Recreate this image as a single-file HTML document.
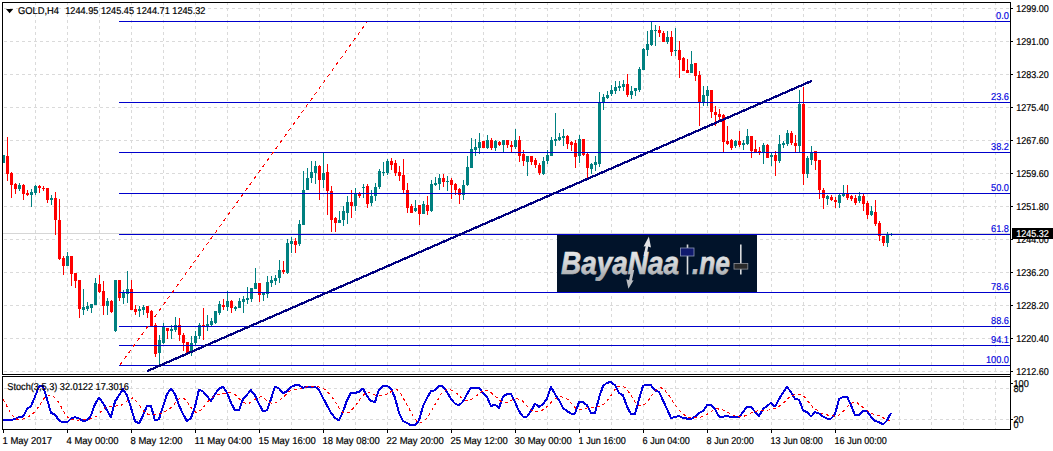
<!DOCTYPE html>
<html><head><meta charset="utf-8"><title>GOLD,H4</title>
<style>
html,body{margin:0;padding:0;background:#fff;overflow:hidden}
svg{display:block}
text{font-family:"Liberation Sans",sans-serif;font-size:10px;fill:#000;stroke:#000;stroke-width:0.2px;text-rendering:geometricPrecision}
.g{stroke:#dadada;stroke-width:1;stroke-dasharray:3 3;fill:none}
.f{stroke:#0000cc;stroke-width:1;fill:none}
.fl{fill:#0000e0;stroke:#0000e0;stroke-width:0.15px;text-anchor:end}
.r{fill:#ff0000}.t{fill:#008080}
</style></head><body>
<svg width="1053" height="451" viewBox="0 0 1053 451">
<rect width="1053" height="451" fill="#fff"/>
<g shape-rendering="crispEdges">
<line class="g" x1="35.5" y1="2" x2="35.5" y2="374"/><line class="g" x1="35.5" y1="380" x2="35.5" y2="429"/><line class="g" x1="67.5" y1="2" x2="67.5" y2="374"/><line class="g" x1="67.5" y1="380" x2="67.5" y2="429"/><line class="g" x1="99.5" y1="2" x2="99.5" y2="374"/><line class="g" x1="99.5" y1="380" x2="99.5" y2="429"/><line class="g" x1="131.5" y1="2" x2="131.5" y2="374"/><line class="g" x1="131.5" y1="380" x2="131.5" y2="429"/><line class="g" x1="163.5" y1="2" x2="163.5" y2="374"/><line class="g" x1="163.5" y1="380" x2="163.5" y2="429"/><line class="g" x1="195.5" y1="2" x2="195.5" y2="374"/><line class="g" x1="195.5" y1="380" x2="195.5" y2="429"/><line class="g" x1="227.5" y1="2" x2="227.5" y2="374"/><line class="g" x1="227.5" y1="380" x2="227.5" y2="429"/><line class="g" x1="259.5" y1="2" x2="259.5" y2="374"/><line class="g" x1="259.5" y1="380" x2="259.5" y2="429"/><line class="g" x1="291.5" y1="2" x2="291.5" y2="374"/><line class="g" x1="291.5" y1="380" x2="291.5" y2="429"/><line class="g" x1="323.5" y1="2" x2="323.5" y2="374"/><line class="g" x1="323.5" y1="380" x2="323.5" y2="429"/><line class="g" x1="355.5" y1="2" x2="355.5" y2="374"/><line class="g" x1="355.5" y1="380" x2="355.5" y2="429"/><line class="g" x1="387.5" y1="2" x2="387.5" y2="374"/><line class="g" x1="387.5" y1="380" x2="387.5" y2="429"/><line class="g" x1="419.5" y1="2" x2="419.5" y2="374"/><line class="g" x1="419.5" y1="380" x2="419.5" y2="429"/><line class="g" x1="451.5" y1="2" x2="451.5" y2="374"/><line class="g" x1="451.5" y1="380" x2="451.5" y2="429"/><line class="g" x1="483.5" y1="2" x2="483.5" y2="374"/><line class="g" x1="483.5" y1="380" x2="483.5" y2="429"/><line class="g" x1="515.5" y1="2" x2="515.5" y2="374"/><line class="g" x1="515.5" y1="380" x2="515.5" y2="429"/><line class="g" x1="547.5" y1="2" x2="547.5" y2="374"/><line class="g" x1="547.5" y1="380" x2="547.5" y2="429"/><line class="g" x1="579.5" y1="2" x2="579.5" y2="374"/><line class="g" x1="579.5" y1="380" x2="579.5" y2="429"/><line class="g" x1="611.5" y1="2" x2="611.5" y2="374"/><line class="g" x1="611.5" y1="380" x2="611.5" y2="429"/><line class="g" x1="643.5" y1="2" x2="643.5" y2="374"/><line class="g" x1="643.5" y1="380" x2="643.5" y2="429"/><line class="g" x1="675.5" y1="2" x2="675.5" y2="374"/><line class="g" x1="675.5" y1="380" x2="675.5" y2="429"/><line class="g" x1="707.5" y1="2" x2="707.5" y2="374"/><line class="g" x1="707.5" y1="380" x2="707.5" y2="429"/><line class="g" x1="739.5" y1="2" x2="739.5" y2="374"/><line class="g" x1="739.5" y1="380" x2="739.5" y2="429"/><line class="g" x1="771.5" y1="2" x2="771.5" y2="374"/><line class="g" x1="771.5" y1="380" x2="771.5" y2="429"/><line class="g" x1="803.5" y1="2" x2="803.5" y2="374"/><line class="g" x1="803.5" y1="380" x2="803.5" y2="429"/><line class="g" x1="835.5" y1="2" x2="835.5" y2="374"/><line class="g" x1="835.5" y1="380" x2="835.5" y2="429"/><line class="g" x1="867.5" y1="2" x2="867.5" y2="374"/><line class="g" x1="867.5" y1="380" x2="867.5" y2="429"/><line class="g" x1="899.5" y1="2" x2="899.5" y2="374"/><line class="g" x1="899.5" y1="380" x2="899.5" y2="429"/><line class="g" x1="931.5" y1="2" x2="931.5" y2="374"/><line class="g" x1="931.5" y1="380" x2="931.5" y2="429"/><line class="g" x1="963.5" y1="2" x2="963.5" y2="374"/><line class="g" x1="963.5" y1="380" x2="963.5" y2="429"/><line class="g" x1="995.5" y1="2" x2="995.5" y2="374"/><line class="g" x1="995.5" y1="380" x2="995.5" y2="429"/>
<line class="g" x1="4" y1="8.5" x2="1010" y2="8.5"/><line class="g" x1="4" y1="41.5" x2="1010" y2="41.5"/><line class="g" x1="4" y1="74.5" x2="1010" y2="74.5"/><line class="g" x1="4" y1="107.5" x2="1010" y2="107.5"/><line class="g" x1="4" y1="140.5" x2="1010" y2="140.5"/><line class="g" x1="4" y1="173.5" x2="1010" y2="173.5"/><line class="g" x1="4" y1="206.5" x2="1010" y2="206.5"/><line class="g" x1="4" y1="239.5" x2="1010" y2="239.5"/><line class="g" x1="4" y1="272.5" x2="1010" y2="272.5"/><line class="g" x1="4" y1="305.5" x2="1010" y2="305.5"/><line class="g" x1="4" y1="338.5" x2="1010" y2="338.5"/><line class="g" x1="4" y1="371.5" x2="1010" y2="371.5"/><line class="g" x1="4" y1="388.5" x2="1010" y2="388.5"/><line class="g" x1="4" y1="419.5" x2="1010" y2="419.5"/>
<rect x="3" y="233" width="1007" height="1" fill="#d6d6d6"/>
<rect class="t" x="3" y="155" width="1" height="8"/><rect class="t" x="2" y="155" width="3" height="8"/>
<rect class="r" x="7" y="137" width="1" height="44"/><rect class="r" x="6" y="156" width="3" height="18"/>
<rect class="r" x="11" y="172" width="1" height="26"/><rect class="r" x="10" y="173" width="3" height="12"/>
<rect class="r" x="15" y="183" width="1" height="11"/><rect class="r" x="14" y="184" width="3" height="5"/>
<rect class="t" x="19" y="183" width="1" height="8"/><rect class="t" x="18" y="185" width="3" height="4"/>
<rect class="r" x="23" y="184" width="1" height="16"/><rect class="r" x="22" y="185" width="3" height="9"/>
<rect class="r" x="27" y="190" width="1" height="6"/><rect class="r" x="26" y="193" width="3" height="2"/>
<rect class="t" x="31" y="189" width="1" height="18"/><rect class="t" x="30" y="192" width="3" height="3"/>
<rect class="t" x="35" y="185" width="1" height="10"/><rect class="t" x="34" y="186" width="3" height="7"/>
<rect class="r" x="39" y="185" width="1" height="8"/><rect class="r" x="38" y="186" width="3" height="2"/>
<rect class="r" x="43" y="186" width="1" height="5"/><rect class="r" x="42" y="188" width="3" height="1"/>
<rect class="r" x="47" y="188" width="1" height="15"/><rect class="r" x="46" y="188" width="3" height="12"/>
<rect class="t" x="51" y="195" width="1" height="10"/><rect class="t" x="50" y="198" width="3" height="2"/>
<rect class="r" x="55" y="192" width="1" height="43"/><rect class="r" x="54" y="198" width="3" height="22"/>
<rect class="r" x="59" y="199" width="1" height="61"/><rect class="r" x="58" y="220" width="3" height="39"/>
<rect class="r" x="63" y="256" width="1" height="19"/><rect class="r" x="62" y="258" width="3" height="8"/>
<rect class="t" x="67" y="252" width="1" height="14"/><rect class="t" x="66" y="256" width="3" height="10"/>
<rect class="r" x="71" y="256" width="1" height="30"/><rect class="r" x="70" y="256" width="3" height="18"/>
<rect class="r" x="75" y="273" width="1" height="15"/><rect class="r" x="74" y="273" width="3" height="8"/>
<rect class="r" x="79" y="280" width="1" height="38"/><rect class="r" x="78" y="280" width="3" height="29"/>
<rect class="t" x="83" y="289" width="1" height="26"/><rect class="t" x="82" y="307" width="3" height="3"/>
<rect class="t" x="87" y="302" width="1" height="9"/><rect class="t" x="86" y="306" width="3" height="3"/>
<rect class="t" x="91" y="304" width="1" height="9"/><rect class="t" x="90" y="304" width="3" height="4"/>
<rect class="t" x="95" y="278" width="1" height="27"/><rect class="t" x="94" y="283" width="3" height="22"/>
<rect class="r" x="99" y="275" width="1" height="18"/><rect class="r" x="98" y="284" width="3" height="8"/>
<rect class="r" x="103" y="281" width="1" height="34"/><rect class="r" x="102" y="291" width="3" height="15"/>
<rect class="t" x="107" y="298" width="1" height="17"/><rect class="t" x="106" y="301" width="3" height="5"/>
<rect class="r" x="111" y="300" width="1" height="13"/><rect class="r" x="110" y="301" width="3" height="11"/>
<rect class="t" x="115" y="280" width="1" height="52"/><rect class="t" x="114" y="280" width="3" height="51"/>
<rect class="r" x="119" y="280" width="1" height="21"/><rect class="r" x="118" y="280" width="3" height="18"/>
<rect class="t" x="123" y="290" width="1" height="14"/><rect class="t" x="122" y="292" width="3" height="6"/>
<rect class="t" x="127" y="271" width="1" height="32"/><rect class="t" x="126" y="289" width="3" height="5"/>
<rect class="r" x="131" y="280" width="1" height="30"/><rect class="r" x="130" y="289" width="3" height="21"/>
<rect class="r" x="135" y="305" width="1" height="10"/><rect class="r" x="134" y="309" width="3" height="3"/>
<rect class="t" x="139" y="306" width="1" height="11"/><rect class="t" x="138" y="309" width="3" height="2"/>
<rect class="t" x="143" y="305" width="1" height="10"/><rect class="t" x="142" y="307" width="3" height="3"/>
<rect class="r" x="147" y="306" width="1" height="12"/><rect class="r" x="146" y="306" width="3" height="7"/>
<rect class="r" x="151" y="310" width="1" height="16"/><rect class="r" x="150" y="311" width="3" height="15"/>
<rect class="r" x="155" y="323" width="1" height="34"/><rect class="r" x="154" y="325" width="3" height="29"/>
<rect class="t" x="159" y="335" width="1" height="30"/><rect class="t" x="158" y="340" width="3" height="13"/>
<rect class="t" x="163" y="323" width="1" height="21"/><rect class="t" x="162" y="326" width="3" height="17"/>
<rect class="r" x="167" y="328" width="1" height="11"/><rect class="r" x="166" y="328" width="3" height="3"/>
<rect class="t" x="171" y="325" width="1" height="14"/><rect class="t" x="170" y="329" width="3" height="2"/>
<rect class="t" x="175" y="317" width="1" height="15"/><rect class="t" x="174" y="325" width="3" height="5"/>
<rect class="r" x="179" y="318" width="1" height="23"/><rect class="r" x="178" y="325" width="3" height="10"/>
<rect class="r" x="183" y="333" width="1" height="18"/><rect class="r" x="182" y="335" width="3" height="8"/>
<rect class="r" x="187" y="342" width="1" height="11"/><rect class="r" x="186" y="342" width="3" height="11"/>
<rect class="t" x="191" y="336" width="1" height="20"/><rect class="t" x="190" y="343" width="3" height="8"/>
<rect class="t" x="195" y="331" width="1" height="14"/><rect class="t" x="194" y="336" width="3" height="7"/>
<rect class="t" x="199" y="323" width="1" height="16"/><rect class="t" x="198" y="325" width="3" height="11"/>
<rect class="r" x="203" y="308" width="1" height="32"/><rect class="r" x="202" y="325" width="3" height="1"/>
<rect class="t" x="207" y="315" width="1" height="16"/><rect class="t" x="206" y="324" width="3" height="2"/>
<rect class="t" x="211" y="318" width="1" height="8"/><rect class="t" x="210" y="321" width="3" height="4"/>
<rect class="t" x="215" y="311" width="1" height="13"/><rect class="t" x="214" y="311" width="3" height="12"/>
<rect class="t" x="219" y="301" width="1" height="14"/><rect class="t" x="218" y="304" width="3" height="9"/>
<rect class="r" x="223" y="299" width="1" height="11"/><rect class="r" x="222" y="305" width="3" height="2"/>
<rect class="t" x="227" y="291" width="1" height="20"/><rect class="t" x="226" y="301" width="3" height="6"/>
<rect class="r" x="231" y="300" width="1" height="13"/><rect class="r" x="230" y="301" width="3" height="7"/>
<rect class="t" x="235" y="306" width="1" height="5"/><rect class="t" x="234" y="307" width="3" height="2"/>
<rect class="t" x="239" y="298" width="1" height="10"/><rect class="t" x="238" y="301" width="3" height="7"/>
<rect class="t" x="243" y="296" width="1" height="17"/><rect class="t" x="242" y="299" width="3" height="3"/>
<rect class="t" x="247" y="287" width="1" height="17"/><rect class="t" x="246" y="298" width="3" height="2"/>
<rect class="t" x="251" y="288" width="1" height="14"/><rect class="t" x="250" y="288" width="3" height="11"/>
<rect class="t" x="255" y="268" width="1" height="21"/><rect class="t" x="254" y="283" width="3" height="6"/>
<rect class="r" x="259" y="283" width="1" height="19"/><rect class="r" x="258" y="283" width="3" height="12"/>
<rect class="t" x="263" y="292" width="1" height="9"/><rect class="t" x="262" y="293" width="3" height="2"/>
<rect class="t" x="267" y="276" width="1" height="22"/><rect class="t" x="266" y="282" width="3" height="12"/>
<rect class="t" x="271" y="276" width="1" height="11"/><rect class="t" x="270" y="280" width="3" height="3"/>
<rect class="t" x="275" y="275" width="1" height="10"/><rect class="t" x="274" y="278" width="3" height="3"/>
<rect class="t" x="279" y="260" width="1" height="23"/><rect class="t" x="278" y="270" width="3" height="8"/>
<rect class="r" x="283" y="261" width="1" height="13"/><rect class="r" x="282" y="270" width="3" height="2"/>
<rect class="t" x="287" y="239" width="1" height="35"/><rect class="t" x="286" y="243" width="3" height="30"/>
<rect class="t" x="291" y="237" width="1" height="16"/><rect class="t" x="290" y="241" width="3" height="3"/>
<rect class="r" x="295" y="238" width="1" height="15"/><rect class="r" x="294" y="241" width="3" height="4"/>
<rect class="t" x="299" y="220" width="1" height="26"/><rect class="t" x="298" y="224" width="3" height="20"/>
<rect class="t" x="303" y="171" width="1" height="54"/><rect class="t" x="302" y="190" width="3" height="35"/>
<rect class="t" x="307" y="168" width="1" height="22"/><rect class="t" x="306" y="178" width="3" height="12"/>
<rect class="t" x="311" y="161" width="1" height="22"/><rect class="t" x="310" y="172" width="3" height="6"/>
<rect class="t" x="315" y="161" width="1" height="23"/><rect class="t" x="314" y="166" width="3" height="7"/>
<rect class="r" x="319" y="165" width="1" height="35"/><rect class="r" x="318" y="166" width="3" height="14"/>
<rect class="t" x="323" y="153" width="1" height="35"/><rect class="t" x="322" y="173" width="3" height="7"/>
<rect class="r" x="327" y="164" width="1" height="51"/><rect class="r" x="326" y="172" width="3" height="19"/>
<rect class="r" x="331" y="186" width="1" height="46"/><rect class="r" x="330" y="191" width="3" height="29"/>
<rect class="r" x="335" y="217" width="1" height="15"/><rect class="r" x="334" y="218" width="3" height="5"/>
<rect class="t" x="339" y="211" width="1" height="12"/><rect class="t" x="338" y="220" width="3" height="3"/>
<rect class="t" x="343" y="206" width="1" height="20"/><rect class="t" x="342" y="211" width="3" height="9"/>
<rect class="t" x="347" y="196" width="1" height="28"/><rect class="t" x="346" y="202" width="3" height="11"/>
<rect class="r" x="351" y="190" width="1" height="28"/><rect class="r" x="350" y="202" width="3" height="4"/>
<rect class="t" x="355" y="188" width="1" height="23"/><rect class="t" x="354" y="194" width="3" height="12"/>
<rect class="r" x="359" y="192" width="1" height="6"/><rect class="r" x="358" y="194" width="3" height="2"/>
<rect class="t" x="363" y="184" width="1" height="14"/><rect class="t" x="362" y="187" width="3" height="1"/>
<rect class="r" x="367" y="184" width="1" height="24"/><rect class="r" x="366" y="186" width="3" height="18"/>
<rect class="t" x="371" y="190" width="1" height="16"/><rect class="t" x="370" y="196" width="3" height="7"/>
<rect class="t" x="375" y="183" width="1" height="18"/><rect class="t" x="374" y="187" width="3" height="9"/>
<rect class="t" x="379" y="169" width="1" height="20"/><rect class="t" x="378" y="171" width="3" height="16"/>
<rect class="t" x="383" y="162" width="1" height="14"/><rect class="t" x="382" y="172" width="3" height="1"/>
<rect class="t" x="387" y="159" width="1" height="16"/><rect class="t" x="386" y="161" width="3" height="12"/>
<rect class="r" x="391" y="158" width="1" height="12"/><rect class="r" x="390" y="161" width="3" height="4"/>
<rect class="r" x="395" y="160" width="1" height="16"/><rect class="r" x="394" y="163" width="3" height="10"/>
<rect class="r" x="399" y="166" width="1" height="15"/><rect class="r" x="398" y="172" width="3" height="4"/>
<rect class="r" x="403" y="159" width="1" height="34"/><rect class="r" x="402" y="175" width="3" height="15"/>
<rect class="r" x="407" y="183" width="1" height="30"/><rect class="r" x="406" y="190" width="3" height="18"/>
<rect class="r" x="411" y="204" width="1" height="9"/><rect class="r" x="410" y="206" width="3" height="7"/>
<rect class="t" x="415" y="200" width="1" height="12"/><rect class="t" x="414" y="208" width="3" height="3"/>
<rect class="r" x="419" y="205" width="1" height="20"/><rect class="r" x="418" y="205" width="3" height="9"/>
<rect class="t" x="423" y="201" width="1" height="13"/><rect class="t" x="422" y="204" width="3" height="10"/>
<rect class="r" x="427" y="196" width="1" height="19"/><rect class="r" x="426" y="205" width="3" height="6"/>
<rect class="t" x="431" y="180" width="1" height="32"/><rect class="t" x="430" y="184" width="3" height="27"/>
<rect class="t" x="435" y="177" width="1" height="9"/><rect class="t" x="434" y="183" width="3" height="2"/>
<rect class="t" x="439" y="174" width="1" height="16"/><rect class="t" x="438" y="178" width="3" height="6"/>
<rect class="r" x="443" y="174" width="1" height="13"/><rect class="r" x="442" y="178" width="3" height="4"/>
<rect class="t" x="447" y="176" width="1" height="15"/><rect class="t" x="446" y="181" width="3" height="1"/>
<rect class="r" x="451" y="178" width="1" height="21"/><rect class="r" x="450" y="180" width="3" height="5"/>
<rect class="r" x="455" y="183" width="1" height="12"/><rect class="r" x="454" y="184" width="3" height="6"/>
<rect class="r" x="459" y="188" width="1" height="16"/><rect class="r" x="458" y="189" width="3" height="6"/>
<rect class="t" x="463" y="180" width="1" height="20"/><rect class="t" x="462" y="185" width="3" height="10"/>
<rect class="t" x="467" y="156" width="1" height="30"/><rect class="t" x="466" y="167" width="3" height="18"/>
<rect class="t" x="471" y="138" width="1" height="30"/><rect class="t" x="470" y="149" width="3" height="19"/>
<rect class="t" x="475" y="139" width="1" height="17"/><rect class="t" x="474" y="147" width="3" height="3"/>
<rect class="t" x="479" y="133" width="1" height="21"/><rect class="t" x="478" y="142" width="3" height="6"/>
<rect class="r" x="483" y="141" width="1" height="7"/><rect class="r" x="482" y="141" width="3" height="7"/>
<rect class="t" x="487" y="135" width="1" height="14"/><rect class="t" x="486" y="140" width="3" height="8"/>
<rect class="r" x="491" y="138" width="1" height="12"/><rect class="r" x="490" y="140" width="3" height="8"/>
<rect class="t" x="495" y="140" width="1" height="11"/><rect class="t" x="494" y="141" width="3" height="7"/>
<rect class="r" x="499" y="141" width="1" height="5"/><rect class="r" x="498" y="142" width="3" height="3"/>
<rect class="t" x="503" y="140" width="1" height="12"/><rect class="t" x="502" y="140" width="3" height="5"/>
<rect class="r" x="507" y="140" width="1" height="8"/><rect class="r" x="506" y="140" width="3" height="5"/>
<rect class="r" x="511" y="141" width="1" height="11"/><rect class="r" x="510" y="145" width="3" height="2"/>
<rect class="t" x="515" y="129" width="1" height="20"/><rect class="t" x="514" y="140" width="3" height="7"/>
<rect class="r" x="519" y="136" width="1" height="26"/><rect class="r" x="518" y="140" width="3" height="16"/>
<rect class="r" x="523" y="150" width="1" height="16"/><rect class="r" x="522" y="154" width="3" height="7"/>
<rect class="t" x="527" y="156" width="1" height="20"/><rect class="t" x="526" y="156" width="3" height="6"/>
<rect class="r" x="531" y="156" width="1" height="9"/><rect class="r" x="530" y="156" width="3" height="6"/>
<rect class="r" x="535" y="158" width="1" height="10"/><rect class="r" x="534" y="160" width="3" height="5"/>
<rect class="r" x="539" y="163" width="1" height="12"/><rect class="r" x="538" y="165" width="3" height="8"/>
<rect class="t" x="543" y="157" width="1" height="18"/><rect class="t" x="542" y="161" width="3" height="13"/>
<rect class="t" x="547" y="150" width="1" height="14"/><rect class="t" x="546" y="155" width="3" height="6"/>
<rect class="t" x="551" y="137" width="1" height="19"/><rect class="t" x="550" y="140" width="3" height="16"/>
<rect class="t" x="555" y="113" width="1" height="33"/><rect class="t" x="554" y="139" width="3" height="2"/>
<rect class="t" x="559" y="133" width="1" height="8"/><rect class="t" x="558" y="137" width="3" height="3"/>
<rect class="t" x="563" y="129" width="1" height="17"/><rect class="t" x="562" y="136" width="3" height="2"/>
<rect class="r" x="567" y="135" width="1" height="14"/><rect class="r" x="566" y="136" width="3" height="8"/>
<rect class="r" x="571" y="141" width="1" height="10"/><rect class="r" x="570" y="142" width="3" height="3"/>
<rect class="r" x="575" y="140" width="1" height="28"/><rect class="r" x="574" y="143" width="3" height="14"/>
<rect class="t" x="579" y="135" width="1" height="28"/><rect class="t" x="578" y="139" width="3" height="17"/>
<rect class="r" x="583" y="139" width="1" height="17"/><rect class="r" x="582" y="139" width="3" height="16"/>
<rect class="r" x="587" y="153" width="1" height="25"/><rect class="r" x="586" y="154" width="3" height="14"/>
<rect class="t" x="591" y="163" width="1" height="11"/><rect class="t" x="590" y="164" width="3" height="5"/>
<rect class="t" x="595" y="156" width="1" height="15"/><rect class="t" x="594" y="162" width="3" height="3"/>
<rect class="t" x="599" y="92" width="1" height="75"/><rect class="t" x="598" y="102" width="3" height="62"/>
<rect class="t" x="603" y="94" width="1" height="16"/><rect class="t" x="602" y="97" width="3" height="6"/>
<rect class="t" x="607" y="91" width="1" height="8"/><rect class="t" x="606" y="95" width="3" height="3"/>
<rect class="t" x="611" y="85" width="1" height="11"/><rect class="t" x="610" y="90" width="3" height="4"/>
<rect class="t" x="615" y="81" width="1" height="13"/><rect class="t" x="614" y="87" width="3" height="4"/>
<rect class="t" x="619" y="81" width="1" height="10"/><rect class="t" x="618" y="86" width="3" height="2"/>
<rect class="t" x="623" y="80" width="1" height="11"/><rect class="t" x="622" y="84" width="3" height="3"/>
<rect class="r" x="627" y="74" width="1" height="23"/><rect class="r" x="626" y="84" width="3" height="11"/>
<rect class="t" x="631" y="86" width="1" height="13"/><rect class="t" x="630" y="91" width="3" height="4"/>
<rect class="t" x="635" y="88" width="1" height="8"/><rect class="t" x="634" y="88" width="3" height="3"/>
<rect class="t" x="639" y="67" width="1" height="25"/><rect class="t" x="638" y="69" width="3" height="21"/>
<rect class="t" x="643" y="48" width="1" height="22"/><rect class="t" x="642" y="49" width="3" height="21"/>
<rect class="t" x="647" y="31" width="1" height="25"/><rect class="t" x="646" y="44" width="3" height="6"/>
<rect class="t" x="651" y="22" width="1" height="24"/><rect class="t" x="650" y="30" width="3" height="15"/>
<rect class="t" x="655" y="25" width="1" height="21"/><rect class="t" x="654" y="30" width="3" height="1"/>
<rect class="r" x="659" y="26" width="1" height="11"/><rect class="r" x="658" y="30" width="3" height="3"/>
<rect class="r" x="663" y="31" width="1" height="11"/><rect class="r" x="662" y="33" width="3" height="9"/>
<rect class="t" x="667" y="31" width="1" height="13"/><rect class="t" x="666" y="37" width="3" height="5"/>
<rect class="r" x="671" y="31" width="1" height="25"/><rect class="r" x="670" y="37" width="3" height="15"/>
<rect class="t" x="675" y="28" width="1" height="28"/><rect class="t" x="674" y="50" width="3" height="1"/>
<rect class="r" x="679" y="41" width="1" height="37"/><rect class="r" x="678" y="50" width="3" height="10"/>
<rect class="r" x="683" y="57" width="1" height="14"/><rect class="r" x="682" y="58" width="3" height="13"/>
<rect class="r" x="687" y="59" width="1" height="14"/><rect class="r" x="686" y="70" width="3" height="3"/>
<rect class="t" x="691" y="51" width="1" height="22"/><rect class="t" x="690" y="64" width="3" height="9"/>
<rect class="r" x="695" y="63" width="1" height="18"/><rect class="r" x="694" y="63" width="3" height="13"/>
<rect class="r" x="699" y="71" width="1" height="55"/><rect class="r" x="698" y="75" width="3" height="28"/>
<rect class="t" x="703" y="86" width="1" height="20"/><rect class="t" x="702" y="95" width="3" height="7"/>
<rect class="t" x="707" y="86" width="1" height="20"/><rect class="t" x="706" y="90" width="3" height="6"/>
<rect class="r" x="711" y="90" width="1" height="28"/><rect class="r" x="710" y="90" width="3" height="22"/>
<rect class="r" x="715" y="106" width="1" height="20"/><rect class="r" x="714" y="112" width="3" height="3"/>
<rect class="r" x="719" y="109" width="1" height="11"/><rect class="r" x="718" y="114" width="3" height="3"/>
<rect class="r" x="723" y="114" width="1" height="39"/><rect class="r" x="722" y="115" width="3" height="27"/>
<rect class="r" x="727" y="126" width="1" height="19"/><rect class="r" x="726" y="141" width="3" height="3"/>
<rect class="r" x="731" y="139" width="1" height="11"/><rect class="r" x="730" y="140" width="3" height="8"/>
<rect class="t" x="735" y="140" width="1" height="8"/><rect class="t" x="734" y="141" width="3" height="5"/>
<rect class="r" x="739" y="131" width="1" height="16"/><rect class="r" x="738" y="141" width="3" height="4"/>
<rect class="t" x="743" y="140" width="1" height="10"/><rect class="t" x="742" y="143" width="3" height="2"/>
<rect class="t" x="747" y="129" width="1" height="16"/><rect class="t" x="746" y="136" width="3" height="8"/>
<rect class="r" x="751" y="136" width="1" height="22"/><rect class="r" x="750" y="136" width="3" height="15"/>
<rect class="r" x="755" y="140" width="1" height="13"/><rect class="r" x="754" y="149" width="3" height="3"/>
<rect class="r" x="759" y="147" width="1" height="8"/><rect class="r" x="758" y="151" width="3" height="2"/>
<rect class="t" x="763" y="143" width="1" height="21"/><rect class="t" x="762" y="145" width="3" height="8"/>
<rect class="r" x="767" y="144" width="1" height="14"/><rect class="r" x="766" y="145" width="3" height="13"/>
<rect class="t" x="771" y="152" width="1" height="14"/><rect class="t" x="770" y="155" width="3" height="2"/>
<rect class="r" x="775" y="151" width="1" height="25"/><rect class="r" x="774" y="155" width="3" height="6"/>
<rect class="t" x="779" y="135" width="1" height="28"/><rect class="t" x="778" y="144" width="3" height="17"/>
<rect class="t" x="783" y="141" width="1" height="7"/><rect class="t" x="782" y="143" width="3" height="2"/>
<rect class="t" x="787" y="130" width="1" height="16"/><rect class="t" x="786" y="133" width="3" height="11"/>
<rect class="r" x="791" y="131" width="1" height="14"/><rect class="r" x="790" y="133" width="3" height="10"/>
<rect class="r" x="795" y="135" width="1" height="17"/><rect class="r" x="794" y="143" width="3" height="3"/>
<rect class="t" x="799" y="90" width="1" height="62"/><rect class="t" x="798" y="104" width="3" height="42"/>
<rect class="r" x="803" y="87" width="1" height="98"/><rect class="r" x="802" y="104" width="3" height="70"/>
<rect class="t" x="807" y="156" width="1" height="22"/><rect class="t" x="806" y="158" width="3" height="16"/>
<rect class="t" x="811" y="146" width="1" height="19"/><rect class="t" x="810" y="152" width="3" height="8"/>
<rect class="r" x="815" y="151" width="1" height="19"/><rect class="r" x="814" y="151" width="3" height="10"/>
<rect class="r" x="819" y="160" width="1" height="39"/><rect class="r" x="818" y="160" width="3" height="30"/>
<rect class="r" x="823" y="188" width="1" height="21"/><rect class="r" x="822" y="190" width="3" height="8"/>
<rect class="t" x="827" y="195" width="1" height="10"/><rect class="t" x="826" y="196" width="3" height="3"/>
<rect class="r" x="831" y="195" width="1" height="6"/><rect class="r" x="830" y="197" width="3" height="3"/>
<rect class="r" x="835" y="197" width="1" height="11"/><rect class="r" x="834" y="200" width="3" height="2"/>
<rect class="t" x="839" y="194" width="1" height="14"/><rect class="t" x="838" y="195" width="3" height="8"/>
<rect class="t" x="843" y="185" width="1" height="12"/><rect class="t" x="842" y="194" width="3" height="2"/>
<rect class="r" x="847" y="185" width="1" height="15"/><rect class="r" x="846" y="194" width="3" height="4"/>
<rect class="r" x="851" y="195" width="1" height="6"/><rect class="r" x="850" y="196" width="3" height="3"/>
<rect class="r" x="855" y="195" width="1" height="10"/><rect class="r" x="854" y="198" width="3" height="5"/>
<rect class="t" x="859" y="192" width="1" height="11"/><rect class="t" x="858" y="196" width="3" height="5"/>
<rect class="r" x="863" y="194" width="1" height="17"/><rect class="r" x="862" y="196" width="3" height="8"/>
<rect class="r" x="867" y="201" width="1" height="18"/><rect class="r" x="866" y="203" width="3" height="12"/>
<rect class="t" x="871" y="206" width="1" height="10"/><rect class="t" x="870" y="211" width="3" height="4"/>
<rect class="r" x="875" y="200" width="1" height="26"/><rect class="r" x="874" y="212" width="3" height="12"/>
<rect class="r" x="879" y="221" width="1" height="20"/><rect class="r" x="878" y="223" width="3" height="13"/>
<rect class="r" x="883" y="236" width="1" height="10"/><rect class="r" x="882" y="236" width="3" height="7"/>
<rect class="t" x="887" y="232" width="1" height="15"/><rect class="t" x="886" y="235" width="3" height="8"/>
<rect class="t" x="891" y="233" width="1" height="3"/><rect class="t" x="890" y="234" width="3" height="1"/>
<rect x="119" y="21" width="891" height="1" fill="#0000cc"/><rect x="119" y="102" width="891" height="1" fill="#0000cc"/><rect x="119" y="152" width="891" height="1" fill="#0000cc"/><rect x="119" y="193" width="891" height="1" fill="#0000cc"/><rect x="119" y="234" width="891" height="1" fill="#0000cc"/><rect x="119" y="292" width="891" height="1" fill="#0000cc"/><rect x="119" y="326" width="891" height="1" fill="#0000cc"/><rect x="119" y="345" width="891" height="1" fill="#0000cc"/><rect x="119" y="365" width="891" height="1" fill="#0000cc"/>
</g>
<line x1="120" y1="365" x2="367" y2="22" stroke="#ff0000" stroke-width="1" stroke-dasharray="3.7 3.7" shape-rendering="crispEdges"/>
<line x1="147" y1="371.2" x2="812" y2="80.8" stroke="#000080" stroke-width="2.3" stroke-linecap="butt" shape-rendering="crispEdges"/>
<defs><linearGradient id="lg" x1="0" y1="250" x2="0" y2="276" gradientUnits="userSpaceOnUse"><stop offset="0" stop-color="#e9eaeb"/><stop offset="0.55" stop-color="#d2d4d6"/><stop offset="1" stop-color="#a9acb0"/></linearGradient></defs>
<g>
<rect x="557" y="235" width="200" height="57" fill="#01132a"/>
<g font-family="Liberation Sans,sans-serif" font-weight="bold" font-style="italic"><text x="561" y="274.3" style="font-size:32px;fill:url(#lg);stroke:url(#lg);stroke-width:0.7px" textLength="118" lengthAdjust="spacingAndGlyphs">BayaNaa</text><text x="692" y="274.3" style="font-size:32px;fill:url(#lg);stroke:url(#lg);stroke-width:0.7px" textLength="38" lengthAdjust="spacingAndGlyphs">.ne</text></g>
<path d="M648.9 236.6 L651 247.5 L648.2 246.6 L646.6 256 L643.6 256 L645.6 246.2 L643.6 246.4 Z" fill="#e3e4e6"/><path d="M628.4 288.8 L626.3 279.2 L629 280 L631.2 270 L634.2 270 L631.9 280.4 L633.6 280.2 Z" fill="#b9bcc0"/><rect x="686.7" y="244.5" width="1.6" height="30" fill="#d9dbdd"/><rect x="680.5" y="248" width="13.5" height="8" fill="#101a6e" stroke="#8d97b5" stroke-width="0.8"/><rect x="740" y="244.5" width="1.6" height="30" fill="#d9dbdd"/><rect x="734" y="263.5" width="13.8" height="5.6" fill="#2a2a2a" stroke="#8e9298" stroke-width="0.8"/>
</g>
<g shape-rendering="crispEdges">
<rect x="2" y="2" width="1009" height="1" fill="#000"/><rect x="2" y="2" width="1" height="373" fill="#000"/><rect x="2" y="374" width="1009" height="1" fill="#000"/><rect x="2" y="376" width="1009" height="1" fill="#000"/><rect x="2" y="376" width="1" height="54" fill="#000"/><rect x="2" y="429" width="1009" height="1" fill="#000"/><rect x="1010" y="2" width="1" height="428" fill="#000"/><rect x="1011" y="0" width="42" height="451" fill="none"/>
<rect x="1011" y="8" width="2" height="1" fill="#000"/><rect x="1011" y="41" width="2" height="1" fill="#000"/><rect x="1011" y="74" width="2" height="1" fill="#000"/><rect x="1011" y="107" width="2" height="1" fill="#000"/><rect x="1011" y="140" width="2" height="1" fill="#000"/><rect x="1011" y="173" width="2" height="1" fill="#000"/><rect x="1011" y="206" width="2" height="1" fill="#000"/><rect x="1011" y="239" width="2" height="1" fill="#000"/><rect x="1011" y="272" width="2" height="1" fill="#000"/><rect x="1011" y="305" width="2" height="1" fill="#000"/><rect x="1011" y="338" width="2" height="1" fill="#000"/><rect x="1011" y="371" width="2" height="1" fill="#000"/><rect x="1011" y="383" width="2" height="1" fill="#000"/><rect x="1011" y="419" width="2" height="1" fill="#000"/><rect x="3" y="430" width="1" height="3" fill="#000"/><rect x="67" y="430" width="1" height="3" fill="#000"/><rect x="131" y="430" width="1" height="3" fill="#000"/><rect x="195" y="430" width="1" height="3" fill="#000"/><rect x="259" y="430" width="1" height="3" fill="#000"/><rect x="323" y="430" width="1" height="3" fill="#000"/><rect x="387" y="430" width="1" height="3" fill="#000"/><rect x="451" y="430" width="1" height="3" fill="#000"/><rect x="515" y="430" width="1" height="3" fill="#000"/><rect x="579" y="430" width="1" height="3" fill="#000"/><rect x="643" y="430" width="1" height="3" fill="#000"/><rect x="707" y="430" width="1" height="3" fill="#000"/><rect x="771" y="430" width="1" height="3" fill="#000"/><rect x="835" y="430" width="1" height="3" fill="#000"/>
</g>
<polyline points="3,420.4 7,420.4 11,419.9 15,419.1 19,417.1 23,416.6 27,409.1 31,406.1 35,396.6 39,386.5 43,386.0 47,399.1 51,412.9 55,414.6 59,420.4 63,422.4 67,422.4 71,418.6 75,417.1 79,418.6 83,420.9 87,420.4 91,415.4 95,404.1 99,397.8 103,402.8 107,410.3 111,417.1 115,401.6 119,395.3 123,389.0 127,395.3 131,407.8 135,421.1 139,423.6 143,415.4 147,406.1 151,406.1 155,420.4 159,419.1 163,406.6 167,394.1 171,388.5 175,394.1 179,405.3 183,414.1 187,421.1 191,417.9 195,406.6 199,389.5 203,391.5 207,396.1 211,401.1 215,394.1 219,388.5 223,387.0 227,392.8 231,402.8 235,410.3 239,410.3 243,399.1 247,394.6 251,390.3 255,395.3 259,404.1 263,411.1 267,410.3 271,399.1 275,386.5 279,388.5 283,393.6 287,391.0 291,387.0 295,385.3 299,385.3 303,387.8 307,386.5 311,386.5 315,386.5 319,390.3 323,397.8 327,405.3 331,412.9 335,417.9 339,420.4 343,411.6 347,400.3 351,392.8 355,392.8 359,392.0 363,388.5 367,396.1 371,401.1 375,402.1 379,389.5 383,386.0 387,386.0 391,388.5 395,397.8 399,412.9 403,421.1 407,422.9 411,425.4 415,425.4 419,420.4 423,406.1 427,397.8 431,391.0 435,390.3 439,386.0 443,386.5 447,392.0 451,399.1 455,403.6 459,405.3 463,401.6 467,394.1 471,387.8 475,387.8 479,387.8 483,392.8 487,397.1 491,406.1 495,404.6 499,407.8 503,396.6 507,394.1 511,394.1 515,402.1 519,411.1 523,416.6 527,416.6 531,411.1 535,403.6 539,407.1 543,404.1 547,398.6 551,387.0 555,394.1 559,400.3 563,407.8 567,411.1 571,413.6 575,413.6 579,402.1 583,402.1 587,405.3 591,412.9 595,412.9 599,397.8 603,386.0 607,382.8 611,382.0 615,385.3 619,392.8 623,395.3 627,406.6 631,414.1 635,414.1 639,399.1 643,386.0 647,384.5 651,385.3 655,390.3 659,392.0 663,400.3 667,409.1 671,417.9 675,417.1 679,416.1 683,417.9 687,418.6 691,419.1 695,416.6 699,412.9 703,411.1 707,405.3 711,405.3 715,409.1 719,416.6 723,416.6 727,416.1 731,417.1 735,417.1 739,417.1 743,412.1 747,406.6 751,407.1 755,411.6 759,416.1 763,409.1 767,406.1 771,402.8 775,406.6 779,399.1 783,392.8 787,387.0 791,392.0 795,399.1 799,399.6 803,410.3 807,412.1 811,416.6 815,412.1 819,413.6 823,416.6 827,418.6 831,418.6 835,414.1 839,399.1 843,397.1 847,396.6 851,405.3 855,415.4 859,415.4 863,411.1 867,411.1 871,416.6 875,421.1 879,422.1 883,424.6 887,420.4 891,412.9" fill="none" stroke="#0000dd" stroke-width="2" stroke-linejoin="round" shape-rendering="crispEdges"/>
<polyline points="3,399.1 5,402.6 9,410.1 13,416.3 17,419.3 21,419.4 25,418.6 29,416.4 33,413.6 37,409.1 41,403.0 45,396.9 49,394.9 53,396.2 57,399.8 61,406.6 65,413.9 69,418.5 73,419.7 77,420.2 81,419.8 85,419.5 89,419.1 93,418.5 97,415.9 101,411.7 105,408.1 109,406.1 113,406.4 117,405.9 121,405.4 125,402.7 129,399.7 133,397.8 137,401.7 141,407.4 145,412.7 149,414.8 153,414.5 157,414.3 161,413.4 165,411.7 169,409.2 173,405.7 177,400.5 181,397.7 185,399.2 189,404.6 193,410.5 197,413.0 201,409.8 205,405.3 209,400.3 213,397.0 217,394.5 221,394.3 225,393.4 229,392.7 233,393.1 237,396.3 241,400.7 245,403.1 249,403.4 253,400.9 257,397.9 261,396.7 265,399.1 269,402.2 273,404.0 277,402.2 281,399.1 285,395.6 289,391.7 293,389.3 297,389.1 301,388.4 305,387.3 309,386.4 313,386.3 317,386.5 321,387.5 325,389.5 329,393.3 333,398.6 337,404.8 341,410.9 345,413.6 349,412.6 353,408.6 357,403.6 361,397.9 365,393.3 369,392.5 373,394.1 377,396.0 381,395.5 385,395.0 389,393.0 393,390.4 397,389.6 401,394.3 405,401.3 409,408.6 413,416.0 417,421.5 421,423.0 425,420.0 429,415.0 433,408.1 437,401.1 441,394.3 445,390.3 449,389.2 453,390.8 457,393.5 461,397.3 465,400.3 469,400.7 473,398.5 477,395.3 481,391.8 485,390.0 489,390.6 493,394.3 497,397.7 501,401.7 505,402.4 509,401.8 513,399.4 517,398.9 521,399.6 525,403.6 529,408.1 533,411.5 537,411.8 541,411.0 545,408.5 549,404.9 553,400.1 557,398.2 561,396.8 565,397.6 569,400.1 573,405.4 577,409.3 581,409.6 585,408.5 589,407.3 593,407.2 597,407.0 601,406.2 605,403.0 609,398.5 613,392.3 617,386.8 621,385.8 625,387.6 629,392.4 633,398.8 637,404.6 641,405.8 645,404.0 649,399.6 653,393.8 657,389.0 661,387.6 665,390.5 669,395.4 673,401.9 677,407.3 681,412.1 685,415.6 689,417.5 693,417.8 697,417.7 701,417.0 705,415.7 709,413.0 713,410.2 717,408.7 721,409.5 725,410.6 729,412.8 733,415.1 737,416.7 741,416.8 745,415.9 749,414.0 753,412.0 757,410.9 761,410.7 765,410.1 769,410.0 773,409.1 777,408.1 781,404.7 785,401.5 789,397.7 793,395.5 797,394.0 801,394.1 805,397.6 809,402.6 813,407.5 817,410.1 821,413.0 825,414.2 829,415.5 833,415.9 837,416.3 841,413.4 845,409.5 849,405.1 853,402.4 857,402.7 861,405.9 865,408.7 869,411.7 873,413.9 877,415.1 881,416.4 885,419.1 889,421.0 893,420.2" fill="none" stroke="#ff0000" stroke-width="1" stroke-dasharray="3 3" shape-rendering="crispEdges"/>
<path d="M6 9 L13.2 9 L9.6 13.2 Z" fill="#000"/><text x="18" y="13.8" textLength="41" lengthAdjust="spacingAndGlyphs">GOLD,H4</text><text x="65.2" y="13.8" textLength="140.3" lengthAdjust="spacingAndGlyphs">1244.95 1245.45 1244.71 1245.32</text>
<text x="7.3" y="389.7" textLength="121.5" lengthAdjust="spacingAndGlyphs">Stoch(3,5,3) 32.0122 17.3016</text>
<text class="fl" x="1009" y="18.7" textLength="12.9" lengthAdjust="spacingAndGlyphs">0.0</text><text class="fl" x="1009" y="99.7" textLength="18.0" lengthAdjust="spacingAndGlyphs">23.6</text><text class="fl" x="1009" y="149.7" textLength="18.0" lengthAdjust="spacingAndGlyphs">38.2</text><text class="fl" x="1009" y="190.7" textLength="18.0" lengthAdjust="spacingAndGlyphs">50.0</text><text class="fl" x="1009" y="231.7" textLength="18.0" lengthAdjust="spacingAndGlyphs">61.8</text><text class="fl" x="1009" y="289.7" textLength="18.0" lengthAdjust="spacingAndGlyphs">78.6</text><text class="fl" x="1009" y="323.7" textLength="18.0" lengthAdjust="spacingAndGlyphs">88.6</text><text class="fl" x="1009" y="342.7" textLength="18.0" lengthAdjust="spacingAndGlyphs">94.1</text><text class="fl" x="1009" y="362.7" textLength="23.1" lengthAdjust="spacingAndGlyphs">100.0</text>
<text x="1016.3" y="11.9" textLength="32.5" lengthAdjust="spacingAndGlyphs">1299.00</text><text x="1016.3" y="44.9" textLength="32.5" lengthAdjust="spacingAndGlyphs">1291.00</text><text x="1016.3" y="77.9" textLength="32.5" lengthAdjust="spacingAndGlyphs">1283.20</text><text x="1016.3" y="110.9" textLength="32.5" lengthAdjust="spacingAndGlyphs">1275.40</text><text x="1016.3" y="143.9" textLength="32.5" lengthAdjust="spacingAndGlyphs">1267.60</text><text x="1016.3" y="176.9" textLength="32.5" lengthAdjust="spacingAndGlyphs">1259.60</text><text x="1016.3" y="209.9" textLength="32.5" lengthAdjust="spacingAndGlyphs">1251.80</text><text x="1016.3" y="242.9" textLength="32.5" lengthAdjust="spacingAndGlyphs">1244.00</text><text x="1016.3" y="275.9" textLength="32.5" lengthAdjust="spacingAndGlyphs">1236.20</text><text x="1016.3" y="308.9" textLength="32.5" lengthAdjust="spacingAndGlyphs">1228.20</text><text x="1016.3" y="341.9" textLength="32.5" lengthAdjust="spacingAndGlyphs">1220.40</text><text x="1016.3" y="374.9" textLength="32.5" lengthAdjust="spacingAndGlyphs">1212.60</text>
<text x="1013.5" y="386.8" textLength="15.3" lengthAdjust="spacingAndGlyphs">100</text><text x="1013.5" y="391.8" textLength="10.2" lengthAdjust="spacingAndGlyphs">80</text><text x="1013.5" y="422.8" textLength="10.2" lengthAdjust="spacingAndGlyphs">20</text><text x="1013.5" y="427.8" textLength="5.1" lengthAdjust="spacingAndGlyphs">0</text>
<rect x="1012" y="228" width="41" height="11" fill="#000" shape-rendering="crispEdges"/><text x="1016.3" y="237" style="fill:#fff;stroke:#fff" textLength="32.5" lengthAdjust="spacingAndGlyphs">1245.32</text>
<text x="2.6" y="443.6" textLength="49.4" lengthAdjust="spacingAndGlyphs">1 May 2017</text><text x="66.6" y="443.6" textLength="52.0" lengthAdjust="spacingAndGlyphs">4 May 00:00</text><text x="130.6" y="443.6" textLength="52.0" lengthAdjust="spacingAndGlyphs">8 May 12:00</text><text x="194.6" y="443.6" textLength="57.3" lengthAdjust="spacingAndGlyphs">11 May 04:00</text><text x="258.6" y="443.6" textLength="57.3" lengthAdjust="spacingAndGlyphs">15 May 16:00</text><text x="322.6" y="443.6" textLength="57.3" lengthAdjust="spacingAndGlyphs">18 May 08:00</text><text x="386.6" y="443.6" textLength="57.3" lengthAdjust="spacingAndGlyphs">22 May 20:00</text><text x="450.6" y="443.6" textLength="57.3" lengthAdjust="spacingAndGlyphs">25 May 12:00</text><text x="514.6" y="443.6" textLength="57.3" lengthAdjust="spacingAndGlyphs">30 May 00:00</text><text x="578.6" y="443.6" textLength="47.3" lengthAdjust="spacingAndGlyphs">1 Jun 16:00</text><text x="642.6" y="443.6" textLength="47.3" lengthAdjust="spacingAndGlyphs">6 Jun 04:00</text><text x="706.6" y="443.6" textLength="47.3" lengthAdjust="spacingAndGlyphs">8 Jun 20:00</text><text x="770.6" y="443.6" textLength="52.3" lengthAdjust="spacingAndGlyphs">13 Jun 08:00</text><text x="834.6" y="443.6" textLength="52.3" lengthAdjust="spacingAndGlyphs">16 Jun 00:00</text>
</svg>
</body></html>
